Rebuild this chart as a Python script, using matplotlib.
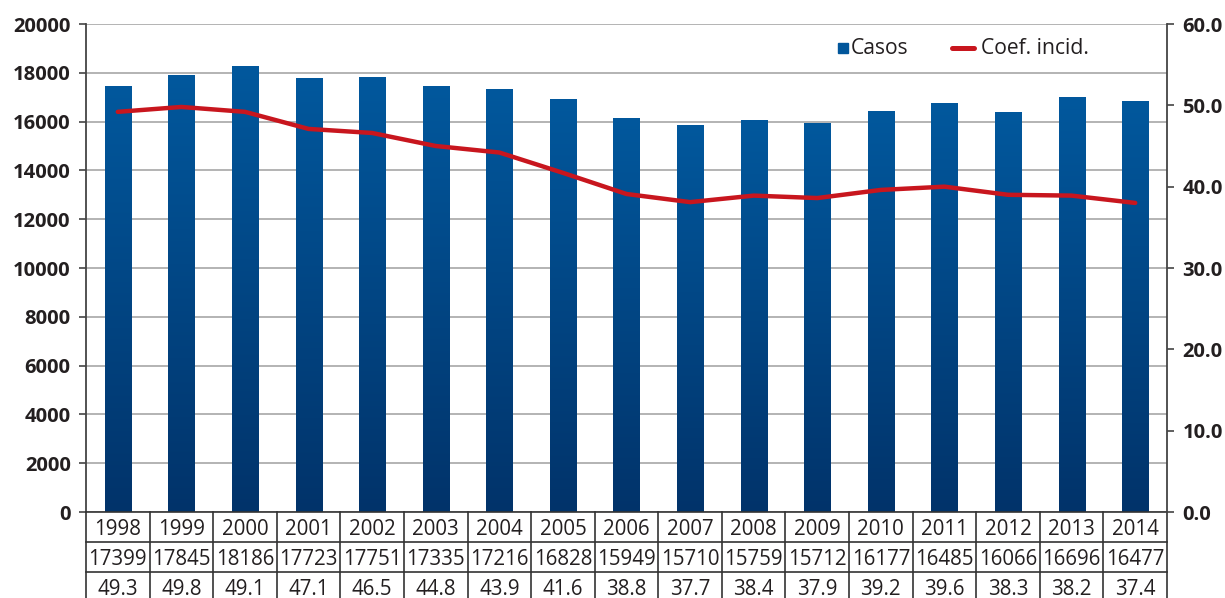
import numpy as np
import matplotlib
matplotlib.use("Agg")
import matplotlib.pyplot as plt
from matplotlib.transforms import blended_transform_factory, offset_copy
from matplotlib.colors import LinearSegmentedColormap

plt.rcParams['font.family'] = ['Open Sans', 'DejaVu Sans']

# ---- data ----
years = ["1998", "1999", "2000", "2001", "2002", "2003", "2004", "2005", "2006",
         "2007", "2008", "2009", "2010", "2011", "2012", "2013", "2014"]
# bar heights as drawn in the chart
casos_bars = [17420, 17870, 18240, 17760, 17790, 17430, 17310, 16900, 16120,
              15840, 16040, 15920, 16410, 16740, 16370, 16990, 16820]
# line values as drawn in the chart
coef_line = [49.2, 49.8, 49.2, 47.1, 46.6, 45.0, 44.2, 41.7, 39.1,
             38.1, 38.9, 38.6, 39.6, 40.0, 39.0, 38.9, 38.0]
# values printed in the table
casos_table = ["17399", "17845", "18186", "17723", "17751", "17335", "17216", "16828", "15949",
               "15710", "15759", "15712", "16177", "16485", "16066", "16696", "16477"]
coef_table = ["49.3", "49.8", "49.1", "47.1", "46.5", "44.8", "43.9", "41.6", "38.8",
              "37.7", "38.4", "37.9", "39.2", "39.6", "38.3", "38.2", "37.4"]
left_ticks = [0, 2000, 4000, 6000, 8000, 10000, 12000, 14000, 16000, 18000, 20000]
right_ticks = [0, 10, 20, 30, 40, 50, 60]
legend_labels = ["Casos", "Coef. incid."]

BLUE = "#01569B"
RED = "#C8161E"
TXT = "#231F20"

W, H = 1225, 598
fig = plt.figure(figsize=(W / 100, H / 100), dpi=100)
ax = fig.add_axes([86 / W, (H - 512) / H, (1167 - 86) / W, (512 - 24) / H])
ax.set_zorder(1)

n = len(years)
x = np.arange(n)
bw = 0.41
cmap = LinearSegmentedColormap.from_list("g", ["#02336A", "#01589D"])
grad = np.linspace(0, 1, 256).reshape(-1, 1)
for xi, h in zip(x, casos_bars):
    ax.imshow(grad, cmap=cmap, origin="lower", aspect="auto",
              extent=[xi - bw / 2, xi + bw / 2, 0, h], zorder=2, interpolation="bicubic")

ax.set_xlim(-0.5, n - 0.5)
ax.set_ylim(0, 20000)
ax.set_yticks(left_ticks)
ax.set_yticklabels([str(t) for t in left_ticks], fontsize=14.5, fontweight="bold", color=TXT)
ax.yaxis.grid(True, color="#B3B3B3", linewidth=1.4, zorder=0)
ax.set_axisbelow(True)
ax.set_xticks([])
ax.tick_params(axis="y", length=5, width=1.2, color="#444444", pad=6)
for s in ["top", "right", "bottom"]:
    ax.spines[s].set_visible(False)
ax.spines["left"].set_color("#444444")
ax.spines["left"].set_linewidth(1.3)

ax2 = ax.twinx()
ax2.set_zorder(2)
ax2.patch.set_visible(False)
ax2.plot(x, coef_line, color=RED, lw=3.2, solid_joinstyle="round",
         solid_capstyle="round", zorder=3)
ax2.set_ylim(0, 60)
ax2.set_yticks(right_ticks)
ax2.set_yticklabels([f"{t:.1f}" for t in right_ticks], fontsize=14.5, fontweight="bold", color=TXT)
ax2.tick_params(axis="y", length=5, width=1.2, color="#444444", pad=6)
for s in ["top", "left", "bottom"]:
    ax2.spines[s].set_visible(False)
ax2.spines["right"].set_color("#444444")
ax2.spines["right"].set_linewidth(1.3)

# legend (manual, figure pixel positions)
def fx(px):
    return px / W
def fy(py):
    return (H - py) / H
ly = 48
fig.lines.append(plt.Line2D([fx(843)], [fy(ly)], marker="s", markersize=7.2, linestyle="none",
                            color=BLUE, transform=fig.transFigure))
fig.text(fx(851), fy(ly), legend_labels[0], ha="left", va="center", fontsize=15.2, color=TXT)
fig.lines.append(plt.Line2D([fx(952), fx(974)], [fy(ly), fy(ly)], lw=3.6, color=RED,
                            solid_capstyle="round", transform=fig.transFigure))
fig.text(fx(981), fy(ly), legend_labels[1], ha="left", va="center", fontsize=15.2, color=TXT)

# table below axis
tr = blended_transform_factory(ax.transData, ax.transAxes)
lc = "#333333"
lw = 1.2
def px_off(dy):
    return offset_copy(tr, fig=fig, x=0, y=dy, units="dots")

for dy in [0, -30, -60]:
    ax.plot([-0.5, n - 0.5], [0, 0], transform=px_off(dy), color=lc, lw=lw, clip_on=False, zorder=5)
vt = blended_transform_factory(ax.transData, fig.transFigure)
y_bot = (H - 512) / H
for i in range(n + 1):
    ax.plot([i - 0.5, i - 0.5], [y_bot, -0.05], transform=vt, color=lc, lw=lw, clip_on=False, zorder=5)

rows = [years, casos_table, coef_table]
for r, row in enumerate(rows):
    for xi, txt in zip(x, row):
        ax.text(xi, 0, txt, transform=px_off(-15 - 30 * r - 2.5), ha="center", va="center",
                fontsize=14.8, color=TXT, clip_on=False)

fig.savefig("out.png", dpi=100)
